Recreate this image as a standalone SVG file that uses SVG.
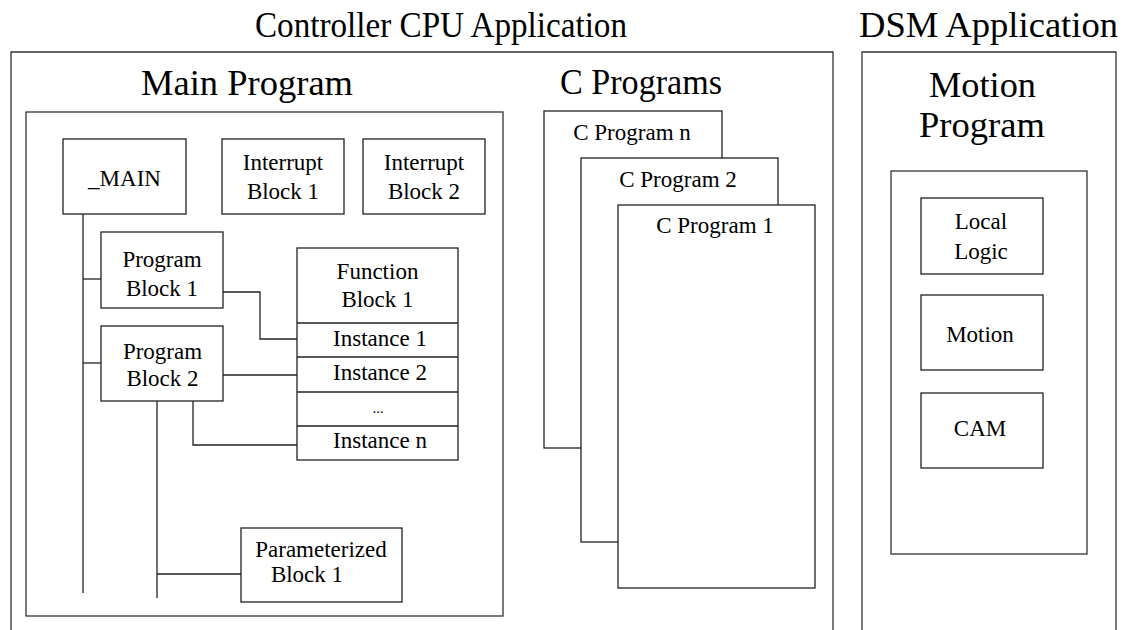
<svg xmlns="http://www.w3.org/2000/svg" width="1134" height="630" viewBox="0 0 1134 630">
<style>
  .bg { fill: #ffffff; }
  .frame { fill: none; stroke: #333; stroke-width: 1.3; }
  .box { fill: #ffffff; stroke: #222; stroke-width: 1.3; }
  .line { fill: none; stroke: #222; stroke-width: 1.3; }
  .title { font-family: 'Liberation Serif', 'DejaVu Serif', serif; font-size: 35px; fill: #000; }
  .lbl { font-family: 'Liberation Serif', 'DejaVu Serif', serif; font-size: 23px; fill: #000; text-anchor: middle; }
</style>
<rect class="bg" x="0" y="0" width="1134" height="630"/>

<g id="controller-cpu-application">
  <path class="frame" d="M11,632 V52 H833 V632"/>
  <text class="title" x="255" y="37" textLength="372" lengthAdjust="spacingAndGlyphs">Controller CPU Application</text>
</g>

<g id="dsm-application">
  <path class="frame" d="M862,632 V52 H1116 V632"/>
  <text class="title" x="859" y="37" textLength="259" lengthAdjust="spacingAndGlyphs">DSM Application</text>
</g>

<g id="main-program">
  <text class="title" x="141" y="95" textLength="212" lengthAdjust="spacingAndGlyphs">Main Program</text>
  <rect class="frame" x="26" y="112" width="477" height="504"/>
</g>

<g id="c-programs">
  <text class="title" x="560" y="94" textLength="162" lengthAdjust="spacingAndGlyphs">C Programs</text>
</g>

<g id="connectors">
  <path class="line" d="M83,214 V593"/>
  <path class="line" d="M83,279 H101"/>
  <path class="line" d="M83,363 H101"/>
  <path class="line" d="M223,292 H260 V339 H297"/>
  <path class="line" d="M223,375 H297"/>
  <path class="line" d="M193,401 V445 H297"/>
  <path class="line" d="M157,401 V598"/>
  <path class="line" d="M157,574 H241"/>
</g>

<g id="main">
  <rect class="box" x="63" y="139" width="123" height="75"/>
  <text class="lbl" x="124.5" y="186">_MAIN</text>
</g>

<g id="interrupt-block-1">
  <rect class="box" x="222" y="139" width="122" height="75"/>
  <text class="lbl" x="283" y="170">Interrupt</text>
  <text class="lbl" x="283" y="199">Block 1</text>
</g>

<g id="interrupt-block-2">
  <rect class="box" x="363" y="139" width="122" height="75"/>
  <text class="lbl" x="424" y="170">Interrupt</text>
  <text class="lbl" x="424" y="199">Block 2</text>
</g>

<g id="program-block-1">
  <rect class="box" x="101" y="232" width="122" height="76"/>
  <text class="lbl" x="162" y="267">Program</text>
  <text class="lbl" x="162" y="296">Block 1</text>
</g>

<g id="program-block-2">
  <rect class="box" x="101" y="326" width="122" height="75"/>
  <text class="lbl" x="162.5" y="359">Program</text>
  <text class="lbl" x="162.5" y="386">Block 2</text>
</g>

<g id="function-block-1">
  <rect class="box" x="297" y="248" width="161" height="212"/>
  <path class="line" d="M297,323 H458 M297,357 H458 M297,392 H458 M297,426 H458"/>
  <text class="lbl" x="377.5" y="279">Function</text>
  <text class="lbl" x="377.5" y="307">Block 1</text>
  <text class="lbl" x="380" y="346">Instance 1</text>
  <text class="lbl" x="380" y="380">Instance 2</text>
  <text class="lbl" x="378" y="413" style="font-size:15px">...</text>
  <text class="lbl" x="380" y="448">Instance n</text>
</g>

<g id="parameterized-block-1">
  <rect class="box" x="241" y="528" width="161" height="74"/>
  <text class="lbl" x="321" y="557">Parameterized</text>
  <text class="lbl" x="307" y="582">Block 1</text>
</g>

<g id="c-program-n">
  <rect class="box" x="544" y="111" width="178" height="337"/>
  <text class="lbl" x="632" y="140">C Program n</text>
</g>

<g id="c-program-2">
  <rect class="box" x="581" y="158" width="197" height="384"/>
  <text class="lbl" x="678" y="187">C Program 2</text>
</g>

<g id="c-program-1">
  <rect class="box" x="618" y="205" width="197" height="383"/>
  <text class="lbl" x="715" y="233">C Program 1</text>
</g>

<g id="motion-program">
  <text class="title" x="929" y="97" textLength="107" lengthAdjust="spacingAndGlyphs">Motion</text>
  <text class="title" x="919" y="137" textLength="126" lengthAdjust="spacingAndGlyphs">Program</text>
  <rect class="frame" x="891" y="171" width="196" height="383"/>
</g>

<g id="local-logic">
  <rect class="box" x="921" y="198" width="122" height="76"/>
  <text class="lbl" x="981" y="229">Local</text>
  <text class="lbl" x="981" y="259">Logic</text>
</g>

<g id="motion">
  <rect class="box" x="921" y="295" width="122" height="75"/>
  <text class="lbl" x="980" y="342">Motion</text>
</g>

<g id="cam">
  <rect class="box" x="921" y="393" width="122" height="75"/>
  <text class="lbl" x="980" y="436">CAM</text>
</g>
</svg>
